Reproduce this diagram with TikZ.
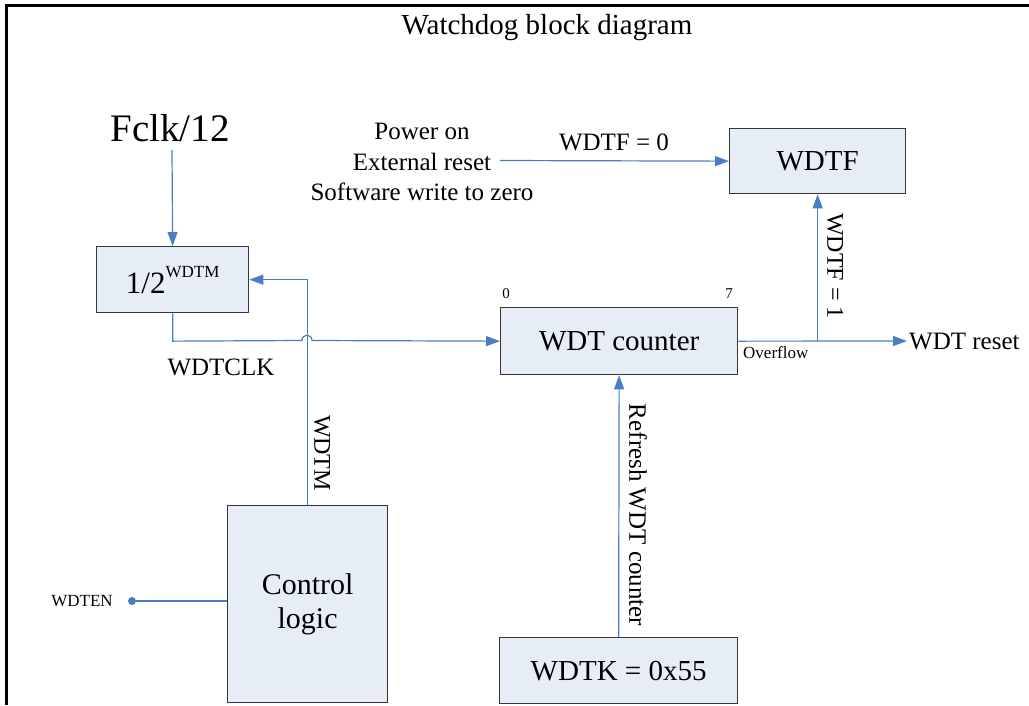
\documentclass[tikz,border=0pt]{standalone}
\usepackage{fontspec}
\setmainfont{Liberation Serif}
\usetikzlibrary{arrows.meta}
\definecolor{lineblue}{HTML}{4A7EC4}
\definecolor{boxfill}{HTML}{E7EDF7}
\definecolor{boxline}{HTML}{363636}
\begin{document}
\begin{tikzpicture}[x=1pt,y=-1pt,
  blk/.style={draw=boxline, line width=1.3pt, fill=boxfill, inner sep=0pt, anchor=north west},
  conn/.style={draw=lineblue, line width=1.2pt},
  arr/.style={conn, -{Triangle[length=14pt,width=10pt]}},
  fa/.style={font=\fontsize{39}{44}\selectfont},
  fb/.style={font=\fontsize{29}{34}\selectfont},
  fc/.style={font=\fontsize{25}{30.5}\selectfont},
  fd/.style={font=\fontsize{24}{28}\selectfont},
  fe/.style={font=\fontsize{17}{20}\selectfont},
  ff/.style={font=\fontsize{15}{18}\selectfont},
  lbl/.style={inner sep=0pt}]
\useasboundingbox (0,0) rectangle (1029,705);
% frame
\draw[line width=3pt] (6,705) -- (6,5.5) -- (1029,5.5);
% title
\node[lbl,fb] (title) at (547,28) {Watchdog block diagram};
% blocks
\node[blk, minimum width=152pt, minimum height=66pt] (half) at (96,246)
  {\fontsize{31}{36}\selectfont 1/2\raisebox{0.52em}{\fontsize{17}{20}\selectfont WDTM}};
\node[blk, minimum width=237pt, minimum height=67pt, fb] (cnt) at (500,307) {WDT counter};
\node[blk, minimum width=176pt, minimum height=65pt, fb] (wdtf) at (729,128) {WDTF};
\node[blk, minimum width=160pt, minimum height=197pt, align=center,
  font=\fontsize{30}{34}\selectfont] (ctl) at (227,505) {Control\\logic};
\node[blk, minimum width=238pt, minimum height=66pt, fb] (wdtk) at (499,637) {WDTK = 0x55};
% texts
\node[lbl,fa] (fclk) at (170,128) {Fclk/12};
\node[lbl,fc] (wdtclk) at (221,367) {WDTCLK};
\node[lbl,fd,rotate=-90] (wdtmlbl) at (322,453) {WDTM};
\node[lbl,fe] (wdten) at (82,601) {WDTEN};
\node[circle, fill=lineblue, inner sep=0pt, minimum size=8pt] (dot) at (132,601) {};
\node[lbl,ff] (c0) at (506,294) {0};
\node[lbl,ff] (c7) at (729,294) {7};
\node[lbl,fe,anchor=west] (ovf) at (743,353) {Overflow};
\node[lbl,fc,anchor=west,inner sep=2pt] (reset) at (907,341) {WDT reset};
\node[lbl,fd,rotate=-90] (wdtf1) at (835,266) {WDTF = 1};
\node[lbl,fc,rotate=-90] (refresh) at (638,515) {Refresh WDT counter};
\node[lbl,fc,align=center] (pwr) at (422,162) {Power on\\External reset\\Software write to zero};
\node[lbl,fc] (wdtf0) at (614,142) {WDTF = 0};
% connectors
\coordinate (fclkend) at (172,150);
\draw[arr] (fclkend) -- (half.north);
\coordinate (jL) at (302,340.5);
\coordinate (jR) at (312,340.5);
\draw[arr] (half.south) -- (half.south |- cnt.west) -- (jL)
  .. controls (302,333.5) and (312,333.5) .. (jR) -- (cnt.west);
\draw[arr] (ctl.north) -- (ctl.north |- half.east) -- (half.east);
\draw[conn] (dot) -- (dot -| ctl.west);
\draw[arr] (wdtk.north) -- (cnt.south);
\draw[arr] (cnt.east) -- (reset.west);
\draw[arr] (wdtf.south |- cnt.east) -- (wdtf.south);
\coordinate (pwrend) at (500,160.5);
\draw[arr] (pwrend) -- (wdtf.west);
\end{tikzpicture}
\end{document}
